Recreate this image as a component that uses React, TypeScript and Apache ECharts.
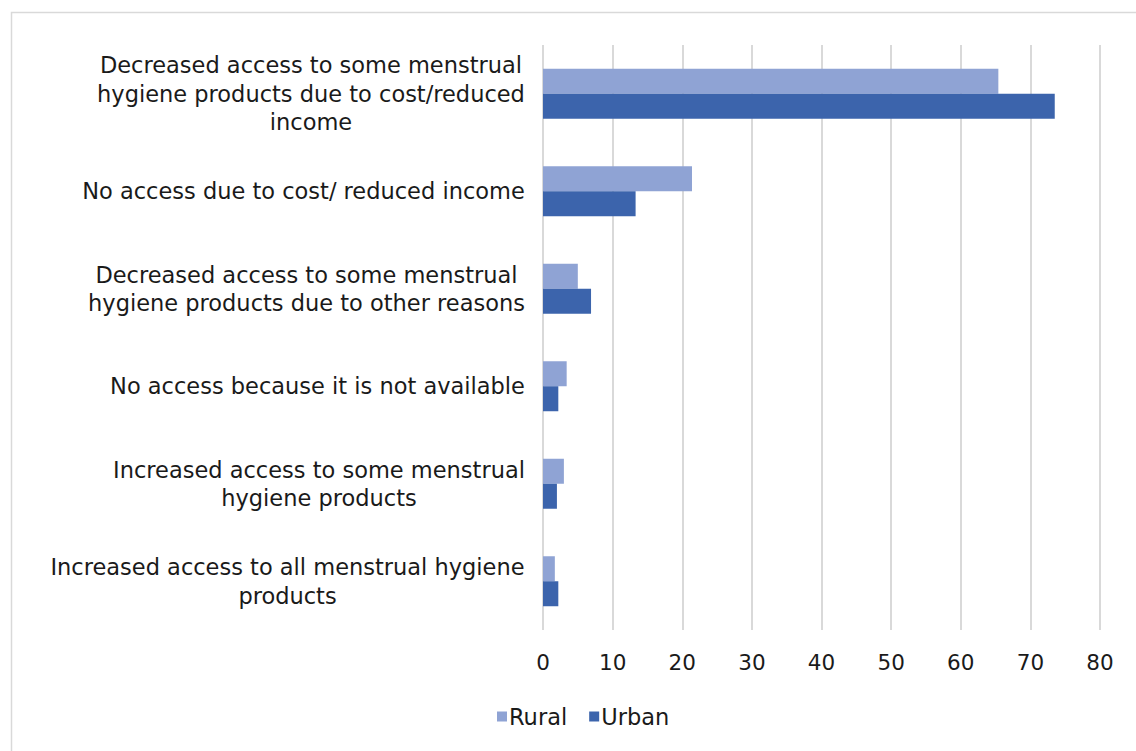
import React, { useEffect, useRef } from "react";
import * as echarts from "echarts";

const categories = [
  "Decreased access to some menstrual\nhygiene products due to cost/reduced\nincome",
  "No access due to cost/ reduced income",
  "Decreased access to some menstrual\nhygiene products due to other reasons",
  "No access because it is not available",
  "Increased access to some menstrual\nhygiene products",
  "Increased access to all menstrual hygiene\nproducts",
];
const rural = [65.4, 21.4, 5.0, 3.4, 3.0, 1.7];
const urban = [73.5, 13.3, 6.9, 2.2, 2.0, 2.2];
const xTicks = { min: 0, max: 80, interval: 10 };

const FONT = "DejaVu Sans";
const FS = 22.5;

export default function App() {
  const ref = useRef<HTMLDivElement>(null);
  useEffect(() => {
    document.body.style.margin = "0";
    if (!ref.current) return;
    const canvas = document.createElement("canvas");
    const ctx = canvas.getContext("2d")!;
    ctx.font = `${FS}px "${FONT}"`;
    const rich: Record<string, any> = {};
    categories.forEach((c, i) => {
      const w = Math.max(...c.split("\n").map((l) => ctx.measureText(l).width));
      rich["c" + i] = {
        width: Math.ceil(w) + 2,
        align: "center",
        fontFamily: FONT,
        fontSize: FS,
        lineHeight: 28.5,
        color: "#1a1a1a",
      };
    });
    const chart = echarts.init(ref.current, null, { renderer: "svg" });
    chart.setOption({
      animation: false,
      textStyle: { fontFamily: FONT },
      graphic: [
        {
          type: "rect",
          shape: { x: 11.5, y: 12.5, width: 1140, height: 760 },
          style: { fill: "none", stroke: "#d9d9d9", lineWidth: 1.5 },
          silent: true,
        },
      ],
      grid: { left: 543, right: 36, top: 45, bottom: 121, containLabel: false },
      legend: {
        data: ["Rural", "Urban"],
        bottom: 18,
        left: 492,
        itemWidth: 10,
        itemHeight: 10,
        itemGap: 22,
        icon: "rect",
        textStyle: { fontFamily: FONT, fontSize: 22.5, color: "#1a1a1a", padding: [0, 0, 0, -3] },
      },
      xAxis: {
        type: "value",
        min: xTicks.min,
        max: xTicks.max,
        interval: xTicks.interval,
        axisLine: { show: false },
        axisTick: { show: false },
        axisLabel: { fontFamily: FONT, fontSize: 21.5, color: "#1a1a1a", margin: 21 },
        splitLine: { show: true, lineStyle: { color: "#d9d9d9", width: 2 } },
      },
      yAxis: {
        type: "category",
        inverse: true,
        data: categories,
        axisLine: { show: false },
        axisTick: { show: false },
        axisLabel: {
          margin: 17,
          formatter: (v: string, idx: number) =>
            v
              .split("\n")
              .map((l) => `{c${idx}|${l}}`)
              .join("\n"),
          rich,
        },
      },
      series: [
        {
          name: "Rural",
          type: "bar",
          data: rural,
          barWidth: 25,
          barGap: "0%",
          itemStyle: { color: "#8FA3D4" },
        },
        {
          name: "Urban",
          type: "bar",
          data: urban,
          barWidth: 25,
          barGap: "0%",
          itemStyle: { color: "#3C64AC" },
        },
      ],
    });
    return () => chart.dispose();
  }, []);
  return <div ref={ref} style={{ width: 1136, height: 751 }} />;
}
